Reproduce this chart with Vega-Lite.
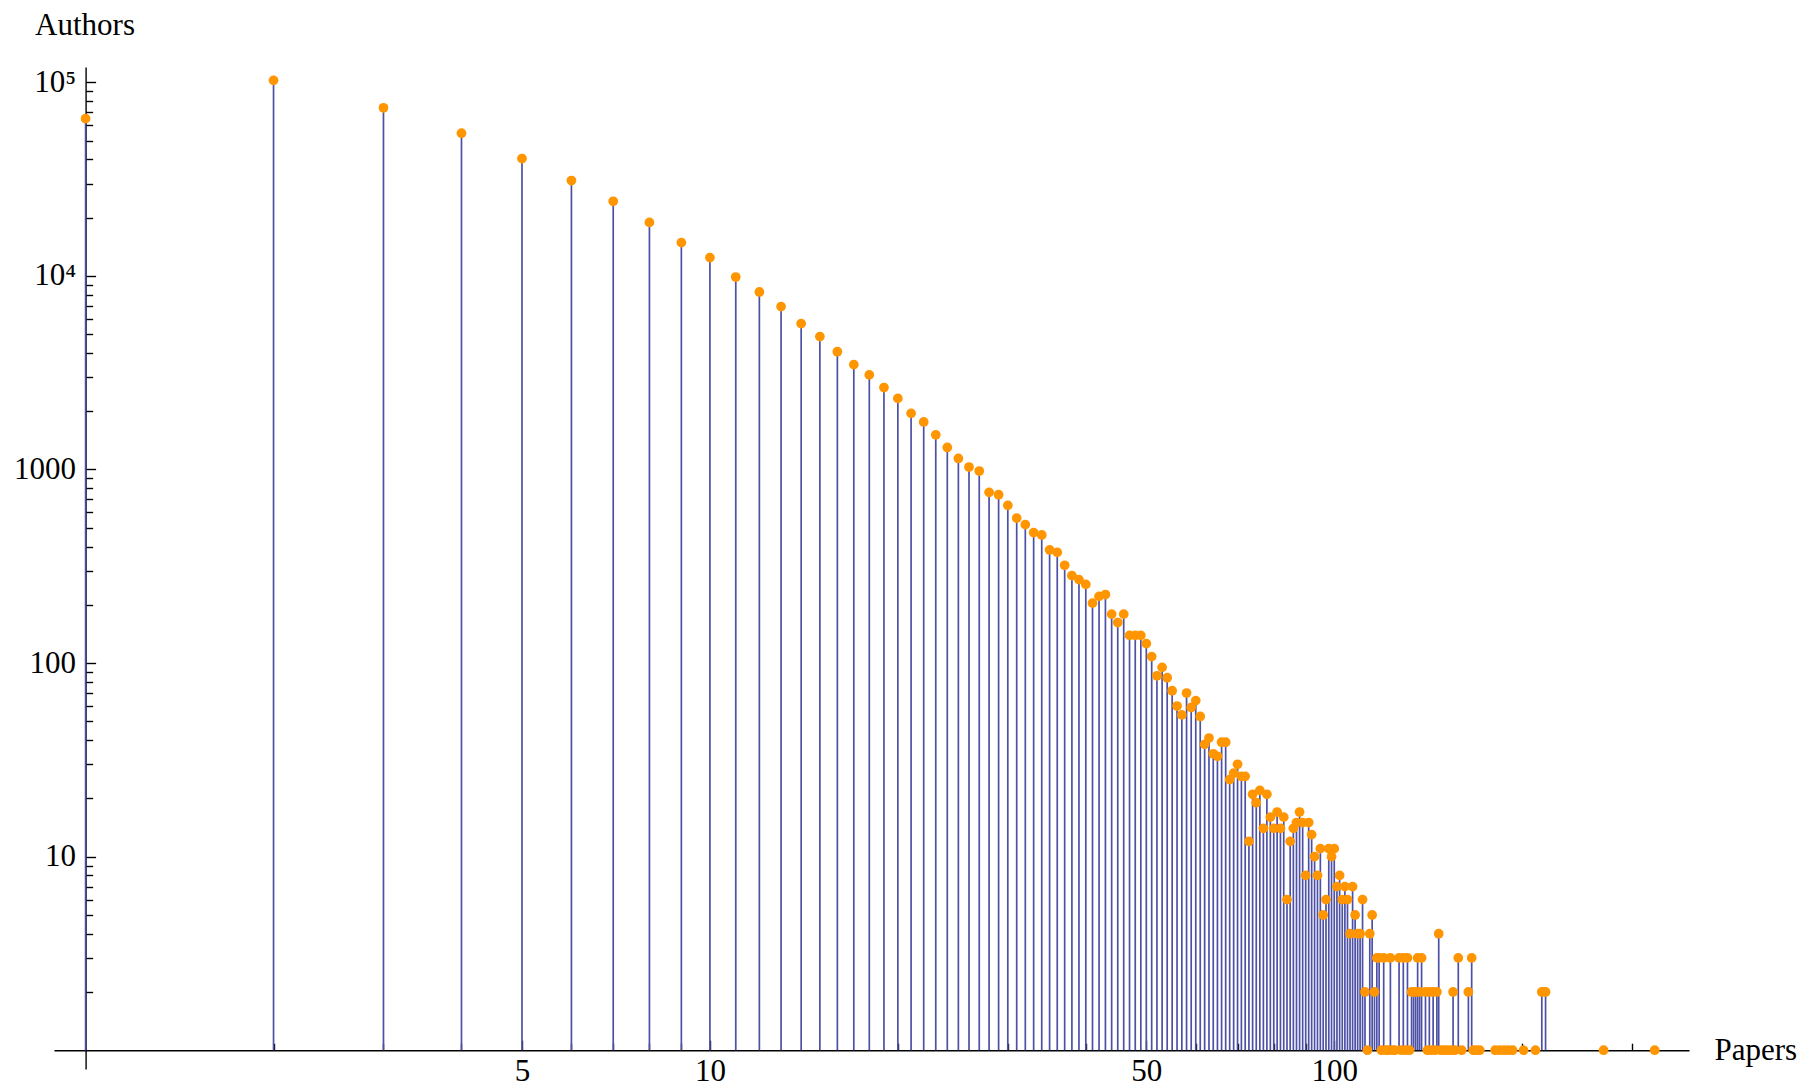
{
  "$schema": "https://vega.github.io/schema/vega-lite/v6.json",
  "width": 1635,
  "height": 1002,
  "autosize": "none",
  "padding": {"left": 54, "top": 67, "right": 123, "bottom": 21},
  "background": "white",
  "config": {"view": {"stroke": null}, "font": "Liberation Serif"},
  "data": {"values": [
    {"papers":1,"authors":64900},{"papers":2,"authors":102400},{"papers":3,"authors":73900},{"papers":4,"authors":54600},{"papers":5,"authors":40400},{"papers":6,"authors":31100},{"papers":7,"authors":24300},{"papers":8,"authors":18900},{"papers":9,"authors":14860},{"papers":10,"authors":12430},
    {"papers":11,"authors":9870},{"papers":12,"authors":8260},{"papers":13,"authors":6940},{"papers":14,"authors":5670},{"papers":15,"authors":4860},{"papers":16,"authors":4060},{"papers":17,"authors":3480},{"papers":18,"authors":3080},{"papers":19,"authors":2650},{"papers":20,"authors":2330},
    {"papers":21,"authors":1950},{"papers":22,"authors":1760},{"papers":23,"authors":1510},{"papers":24,"authors":1300},{"papers":25,"authors":1140},{"papers":26,"authors":1030},{"papers":27,"authors":982},{"papers":28,"authors":762},{"papers":29,"authors":741},{"papers":30,"authors":653},
    {"papers":31,"authors":561},{"papers":32,"authors":519},{"papers":33,"authors":472},{"papers":34,"authors":459},{"papers":35,"authors":384},{"papers":36,"authors":373},{"papers":37,"authors":320},{"papers":38,"authors":283},{"papers":39,"authors":270},{"papers":40,"authors":255},
    {"papers":41,"authors":204},{"papers":42,"authors":221},{"papers":43,"authors":226},{"papers":44,"authors":179},{"papers":45,"authors":162},{"papers":46,"authors":179},{"papers":47,"authors":139},{"papers":48,"authors":139},{"papers":49,"authors":139},{"papers":50,"authors":126},
    {"papers":51,"authors":108},{"papers":52,"authors":86},{"papers":53,"authors":95},{"papers":54,"authors":84},{"papers":55,"authors":72},{"papers":56,"authors":60},{"papers":57,"authors":54},{"papers":58,"authors":70},{"papers":59,"authors":59},{"papers":60,"authors":64},
    {"papers":61,"authors":53},{"papers":62,"authors":38},{"papers":63,"authors":41},{"papers":64,"authors":34},{"papers":65,"authors":33},{"papers":66,"authors":39},{"papers":67,"authors":39},{"papers":68,"authors":25},{"papers":69,"authors":27},{"papers":70,"authors":30},
    {"papers":71,"authors":26},{"papers":72,"authors":26},{"papers":73,"authors":12},{"papers":74,"authors":21},{"papers":75,"authors":19},{"papers":76,"authors":22},{"papers":77,"authors":14},{"papers":78,"authors":21},{"papers":79,"authors":16},{"papers":80,"authors":14},
    {"papers":81,"authors":17},{"papers":82,"authors":14},{"papers":83,"authors":16},{"papers":84,"authors":6},{"papers":85,"authors":12},{"papers":86,"authors":14},{"papers":87,"authors":15},{"papers":88,"authors":17},{"papers":89,"authors":15},{"papers":90,"authors":8},
    {"papers":91,"authors":15},{"papers":92,"authors":13},{"papers":93,"authors":10},{"papers":94,"authors":8},{"papers":95,"authors":11},{"papers":96,"authors":5},{"papers":97,"authors":6},{"papers":98,"authors":11},{"papers":99,"authors":10},{"papers":100,"authors":11},
    {"papers":101,"authors":7},{"papers":102,"authors":8},{"papers":103,"authors":6},{"papers":104,"authors":7},{"papers":105,"authors":6},{"papers":106,"authors":4},{"papers":107,"authors":7},{"papers":108,"authors":5},{"papers":109,"authors":4},{"papers":110,"authors":4},
    {"papers":111,"authors":6},{"papers":112,"authors":2},{"papers":113,"authors":1},{"papers":114,"authors":4},{"papers":115,"authors":5},{"papers":116,"authors":2},{"papers":117,"authors":3},{"papers":118,"authors":3},{"papers":119,"authors":1},{"papers":120,"authors":3},
    {"papers":121,"authors":1},{"papers":122,"authors":1},{"papers":123,"authors":3},{"papers":124,"authors":1},{"papers":125,"authors":1},{"papers":127,"authors":3},{"papers":128,"authors":1},{"papers":129,"authors":3},{"papers":130,"authors":1},
    {"papers":131,"authors":3},{"papers":132,"authors":1},{"papers":133,"authors":2},{"papers":134,"authors":2},{"papers":135,"authors":2},{"papers":136,"authors":3},{"papers":137,"authors":2},{"papers":138,"authors":3},{"papers":140,"authors":2},
    {"papers":141,"authors":1},{"papers":142,"authors":2},{"papers":143,"authors":1},{"papers":144,"authors":2},{"papers":145,"authors":1},{"papers":146,"authors":2},{"papers":147,"authors":4},{"papers":148,"authors":1},{"papers":150,"authors":1},
    {"papers":152,"authors":1},{"papers":154,"authors":1},{"papers":155,"authors":2},{"papers":156,"authors":1},{"papers":158,"authors":3},{"papers":160,"authors":1},{"papers":164,"authors":2},{"papers":166,"authors":3},{"papers":167,"authors":1},
    {"papers":169,"authors":1},{"papers":171,"authors":1},{"papers":181,"authors":1},{"papers":184,"authors":1},{"papers":187,"authors":1},{"papers":190,"authors":1},{"papers":193,"authors":1},{"papers":201,"authors":1},{"papers":210,"authors":1},
    {"papers":215,"authors":2},{"papers":218,"authors":2},{"papers":270,"authors":1},{"papers":326,"authors":1}
  ]},
  "resolve": {"axis": {"x": "independent", "y": "independent"}},
  "layer": [
    {
      "mark": {"type": "rule", "color": "#4d51a6", "strokeWidth": 1.7},
      "encoding": {
        "x": {"field": "papers", "type": "quantitative",
          "scale": {"type": "log", "domain": [0.89, 370], "nice": false},
          "axis": {"orient": "bottom", "offset": -18.8, "values": [5, 10, 50, 100], "format": "d",
            "tickSize": -10, "tickWidth": 1.4, "tickColor": "black", "domainColor": "black", "domainWidth": 1.4,
            "labelFontSize": 31, "labelFont": "Liberation Serif", "labelColor": "black", "labelPadding": 16,
            "labelFlush": false, "labelOverlap": false, "grid": false,
            "title": "Papers", "titleX": 1660, "titleY": 0, "titleAlign": "left", "titleBaseline": "middle",
            "titleFontSize": 31, "titleFontWeight": "normal", "titleFont": "Liberation Serif", "titleColor": "black"}},
        "y": {"field": "authors", "type": "quantitative",
          "scale": {"type": "log", "domain": [0.8, 120000], "nice": false},
          "axis": {"orient": "left", "offset": -31.6, "values": [10, 100, 1000, 10000, 100000], "format": "d",
            "labelExpr": "datum.value >= 100000 ? '10⁵' : (datum.value >= 10000 ? '10⁴' : datum.label)",
            "tickSize": -10, "tickWidth": 1.4, "tickColor": "black", "domainColor": "black", "domainWidth": 1.4,
            "labelFontSize": 31, "labelFont": "Liberation Serif", "labelColor": "black", "labelPadding": 20,
            "labelFlush": false, "labelOverlap": false, "grid": false,
            "title": "Authors", "titleAngle": 0, "titleX": -51, "titleY": -42, "titleAlign": "left", "titleBaseline": "middle",
            "titleFontSize": 31, "titleFontWeight": "normal", "titleFont": "Liberation Serif", "titleColor": "black"}},
        "y2": {"datum": 1}
      }
    },
    {
      "mark": {"type": "circle", "color": "#ff9500", "opacity": 1, "size": 95},
      "encoding": {
        "x": {"field": "papers", "type": "quantitative",
          "scale": {"type": "log", "domain": [0.89, 370], "nice": false},
          "axis": {"orient": "bottom", "offset": -18.8, "values": [2,3,4,6,7,8,9,20,30,40,60,70,80,90,200,300],
            "labels": false, "domain": false, "tickSize": -7, "tickWidth": 1.4, "tickColor": "black", "grid": false, "title": null}},
        "y": {"field": "authors", "type": "quantitative",
          "scale": {"type": "log", "domain": [0.8, 120000], "nice": false},
          "axis": {"orient": "left", "offset": -31.6,
            "values": [2,3,4,5,6,7,8,9,20,30,40,50,60,70,80,90,200,300,400,500,600,700,800,900,2000,3000,4000,5000,6000,7000,8000,9000,20000,30000,40000,50000,60000,70000,80000,90000],
            "labels": false, "domain": false, "tickSize": -7, "tickWidth": 1.4, "tickColor": "black", "grid": false, "title": null}}
      }
    }
  ]
}
